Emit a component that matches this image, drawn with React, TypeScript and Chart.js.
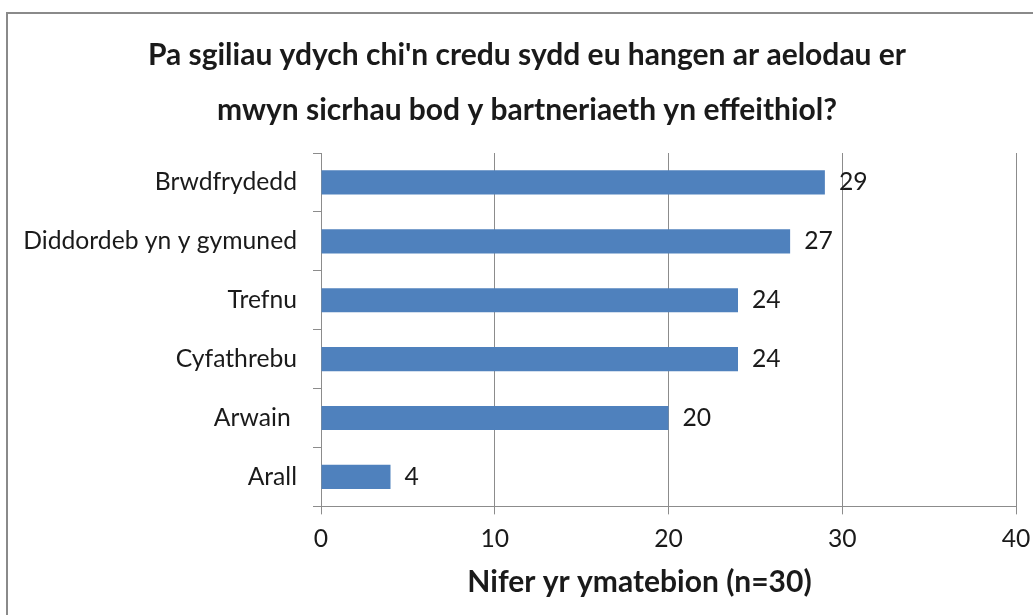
import React, { useEffect, useRef } from "react";
import { Chart, registerables } from "chart.js";

Chart.register(...registerables);

const categories = ["Brwdfrydedd", "Diddordeb yn y gymuned", "Trefnu", "Cyfathrebu", "Arwain ", "Arall"];
const values = [29, 27, 24, 24, 20, 4];
const xMin = 0;
const xMax = 40;
const xStep = 10;
const titleLines = [
  "Pa sgiliau ydych chi'n credu sydd eu hangen ar aelodau er",
  "mwyn sicrhau bod y bartneriaeth yn effeithiol?",
];
const xTitle = "Nifer yr ymatebion (n=30)";

const FONT = "Lato, 'DejaVu Sans', sans-serif";
const TEXT = "#1a1a1a";
const GRID = "#8c8c8c";
const BAR = "#4F81BD";
const LABEL_SIZE = 24.7;
const TITLE_SIZE = 30;

const framePlugin = {
  id: "frame",
  afterLayout(chart: any) {
    // the original title sits slightly right of the canvas centre
    const t = chart.titleBlock;
    if (t) t.left = t.left + 38;
  },
  beforeDraw(chart: any) {
    const ctx = chart.ctx;
    ctx.save();
    ctx.fillStyle = "#ffffff";
    ctx.fillRect(0, 0, chart.width, chart.height);
    ctx.strokeStyle = "#8a8a8a";
    ctx.lineWidth = 2;
    ctx.strokeRect(7, 13, chart.width + 20, chart.height + 20);
    ctx.restore();
  },
};

const labelPlugin = {
  id: "barLabels",
  afterDatasetsDraw(chart: any) {
    const ctx = chart.ctx;
    const meta = chart.getDatasetMeta(0);
    const data = chart.data.datasets[0].data;
    ctx.save();
    ctx.font = `${LABEL_SIZE}px ${FONT}`;
    ctx.fillStyle = TEXT;
    ctx.textAlign = "left";
    ctx.textBaseline = "middle";
    meta.data.forEach((el: any, i: number) => {
      ctx.fillText(String(data[i]), el.x + 14, el.y);
    });
    ctx.restore();
  },
};

// x-axis title is laid out by the scale (transparent) and painted here, offset like the original
const xTitlePlugin = {
  id: "xTitleOffset",
  afterDraw(chart: any) {
    const ctx = chart.ctx;
    const s = chart.scales.x;
    const cx = (s.left + s.right) / 2 - 29;
    const cy = s.bottom - 15 - (TITLE_SIZE * 1.2) / 2;
    ctx.save();
    ctx.font = `bold ${TITLE_SIZE}px ${FONT}`;
    ctx.fillStyle = TEXT;
    ctx.textAlign = "center";
    ctx.textBaseline = "middle";
    ctx.fillText(xTitle, cx, cy);
    ctx.restore();
  },
};

export default function App() {
  const ref = useRef<HTMLCanvasElement | null>(null);
  useEffect(() => {
    if (!ref.current) return;
    const chart = new Chart(ref.current, {
      type: "bar",
      data: {
        labels: categories,
        datasets: [
          {
            data: values,
            backgroundColor: BAR,
            barPercentage: 0.41,
            categoryPercentage: 1,
          },
        ],
      },
      options: {
        indexAxis: "y",
        responsive: false,
        animation: false,
        layout: { padding: { left: 0, right: 17, top: 0, bottom: 0 } },
        plugins: {
          legend: { display: false },
          tooltip: { enabled: false },
          title: {
            display: true,
            text: titleLines,
            color: TEXT,
            font: { family: FONT, size: TITLE_SIZE, weight: "bold", lineHeight: "55px" },
            padding: { top: 27.5, bottom: 15.5 },
          },
        },
        scales: {
          x: {
            min: xMin,
            max: xMax,
            ticks: { stepSize: xStep, color: TEXT, font: { family: FONT, size: LABEL_SIZE }, padding: 10 },
            grid: { color: GRID, tickLength: 8, drawTicks: true },
            border: { display: true, color: GRID },
            title: {
              display: true,
              text: xTitle,
              color: "rgba(0,0,0,0)",
              font: { family: FONT, size: TITLE_SIZE, weight: "bold" },
              padding: { top: 0, bottom: 15 },
            },
            afterFit: (s: any) => {
              s.paddingLeft = 0;
              s.paddingRight = 0;
            },
          },
          y: {
            ticks: { color: TEXT, font: { family: FONT, size: LABEL_SIZE }, padding: 16 },
            grid: { drawOnChartArea: false, drawTicks: true, tickLength: 8, color: GRID, offset: true },
            border: { display: true, color: GRID },
            afterFit: (s: any) => {
              s.width = 321;
            },
          },
        },
      },
      plugins: [framePlugin, labelPlugin, xTitlePlugin],
    });
    return () => chart.destroy();
  }, []);
  return (
    <div style={{ position: "fixed", left: 0, top: 0, width: 1033, height: 615 }}>
      <canvas ref={ref} width={1033} height={615} style={{ display: "block" }} />
    </div>
  );
}
